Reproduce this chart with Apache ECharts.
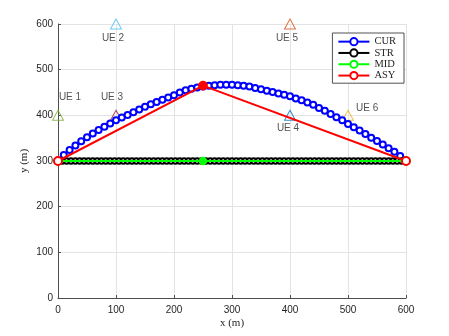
<!DOCTYPE html>
<html>
<head>
<meta charset="utf-8">
<script src="https://cdn.jsdelivr.net/npm/echarts@6/dist/echarts.min.js"></script>
<style>
    html, body { margin: 0; padding: 0; background: #fff; }
    #chart { width: 449px; height: 336px; }
</style>
</head>
<body>
<div id="chart"></div>
<script>
    // ---- data ----
    var curX = [10, 20, 30, 40, 50, 60, 70, 80, 90, 100, 110, 120, 130, 140, 150, 160, 170, 180, 190, 200,
                210, 220, 230, 240, 250, 260, 270, 280, 290, 300, 310, 320, 330, 340, 350, 360, 370, 380, 390, 400,
                410, 420, 430, 440, 450, 460, 470, 480, 490, 500, 510, 520, 530, 540, 550, 560, 570, 580, 590];
    var curY = [313, 324, 334, 343, 352, 360, 368, 375, 382, 389, 395, 401, 407, 413, 419, 424, 429, 434, 439, 444,
                450, 455, 458, 461, 463, 465, 466, 467, 467, 467, 466, 465, 463, 460, 457, 454, 451, 448, 445, 442,
                437, 433, 428, 423, 416, 410, 403, 396, 389, 381, 374, 367, 359, 351, 344, 336, 328, 320, 311];

    var strX = [7.5, 15, 22.5, 30, 37.5, 45, 52.5, 60, 67.5, 75, 82.5, 90, 97.5, 105, 112.5, 120, 127.5, 135, 142.5, 150,
                157.5, 165, 172.5, 180, 187.5, 195, 202.5, 210, 217.5, 225, 232.5, 240, 247.5, 255, 262.5, 270, 277.5, 285, 292.5, 300,
                307.5, 315, 322.5, 330, 337.5, 345, 352.5, 360, 367.5, 375, 382.5, 390, 397.5, 405, 412.5, 420, 427.5, 435, 442.5, 450,
                457.5, 465, 472.5, 480, 487.5, 495, 502.5, 510, 517.5, 525, 532.5, 540, 547.5, 555, 562.5, 570, 577.5, 585, 592.5];
    var strLevel = 300;

    var midX = [0, 250, 600];
    var midY = [300, 300, 300];

    var asyX = [0, 250, 600];
    var asyY = [300, 465, 300];

    var ueNames = ['UE 1', 'UE 2', 'UE 3', 'UE 4', 'UE 5', 'UE 6'];
    var ueX = [0, 100, 100, 400, 400, 500];
    var ueY = [400, 600, 400, 400, 600, 400];

    // ---- styling ----
    var ueColors = ['#77AC30', '#4DBEEE', '#A2142F', '#0072BD', '#D95319', '#EDB120'];
    // label placement: [position, offsetX, offsetY]
    var ueLabelPos = [
        ['top', 12, -3],
        ['bottom', -3, -1],
        ['top', -4, -3],
        ['bottom', -2, -3],
        ['bottom', -3, -1],
        ['right', -3, -7]
    ];

    function pairs(xs, ys) {
        return xs.map(function (x, i) { return [x, ys[i]]; });
    }

    var strData = strX.map(function (x) { return [x, strLevel]; });

    var ueData = ueX.map(function (x, i) {
        var p = ueLabelPos[i];
        return {
            value: [x, ueY[i]],
            name: ueNames[i],
            itemStyle: { color: 'rgba(255,255,255,0)', borderColor: ueColors[i], borderWidth: 1 },
            label: { show: true, position: p[0], offset: [p[1], p[2]] }
        };
    });

    // middle points of MID / ASY look filled in the picture
    function peakFilled(xs, ys) {
        return xs.map(function (x, i) {
            var d = { value: [x, ys[i]] };
            if (x === 250) d.symbol = 'circle';
            return d;
        });
    }

    var axisCommon = {
        type: 'value',
        min: 0,
        max: 600,
        interval: 100,
        nameLocation: 'middle',
        nameMoveOverlap: false,
        nameTextStyle: { fontFamily: 'Liberation Serif', fontSize: 11, color: '#262626' },
        axisLine: { show: true, lineStyle: { color: '#4d4d4d', width: 1 } },
        axisTick: { show: true, inside: true, length: 3, lineStyle: { color: '#4d4d4d' } },
        axisLabel: { fontFamily: 'Liberation Sans', fontSize: 10, color: '#262626', margin: 5 },
        splitLine: { show: true, lineStyle: { color: '#e3e3e3', width: 1 } }
    };

    var option = {
        animation: false,
        backgroundColor: '#fff',
        grid: { left: 58, right: 43, top: 24, bottom: 38 },
        legend: {
            orient: 'vertical',
            right: 45,
            top: 33,
            padding: [3, 8, 2, 5],
            itemGap: 0,
            itemWidth: 31,
            itemHeight: 9,
            borderColor: '#262626',
            borderWidth: 0.8,
            borderRadius: 0,
            backgroundColor: '#fff',
            textStyle: { fontFamily: 'Liberation Serif', fontSize: 10.5, lineHeight: 11.3, color: '#262626' },
            data: ['CUR', 'STR', 'MID', 'ASY']
        },
        xAxis: Object.assign({}, axisCommon, {
            name: 'x (m)', nameGap: 20,
            axisLabel: Object.assign({}, axisCommon.axisLabel, { margin: 7 })
        }),
        yAxis: Object.assign({}, axisCommon, { name: 'y (m)', nameGap: 28 }),
        series: [
            {
                name: 'CUR', type: 'line', clip: false,
                data: pairs(curX, curY),
                symbol: 'emptyCircle', symbolSize: 6,
                lineStyle: { color: '#0000ff', width: 2 },
                itemStyle: { color: '#0000ff', borderColor: '#0000ff', borderWidth: 1.6 },
                z: 2
            },
            {
                name: 'STR', type: 'line', clip: false,
                data: strData,
                symbol: 'emptyCircle', symbolSize: 5.5,
                lineStyle: { color: '#000000', width: 2 },
                itemStyle: { color: '#000000', borderColor: '#000000', borderWidth: 1.3 },
                z: 3
            },
            {
                name: 'MID', type: 'line', clip: false,
                data: peakFilled(midX, midY),
                symbol: 'emptyCircle', symbolSize: 7,
                lineStyle: { color: '#00ff00', width: 2 },
                itemStyle: { color: '#00ff00', borderColor: '#00ff00', borderWidth: 1.5 },
                z: 4
            },
            {
                name: 'ASY', type: 'line', clip: false,
                data: peakFilled(asyX, asyY),
                symbol: 'emptyCircle', symbolSize: 8,
                lineStyle: { color: '#ff0000', width: 2 },
                itemStyle: { color: '#ff0000', borderColor: '#ff0000', borderWidth: 1.8 },
                z: 5
            },
            {
                name: 'UE', type: 'scatter', clip: false,
                data: ueData,
                symbol: 'triangle', symbolSize: [11, 10],
                label: {
                    formatter: '{b}',
                    fontFamily: 'Liberation Sans', fontSize: 10, color: '#262626'
                },
                z: 1
            }
        ]
    };

    var myChart = echarts.init(document.getElementById('chart'));
    myChart.setOption(option);
</script>
</body>
</html>
